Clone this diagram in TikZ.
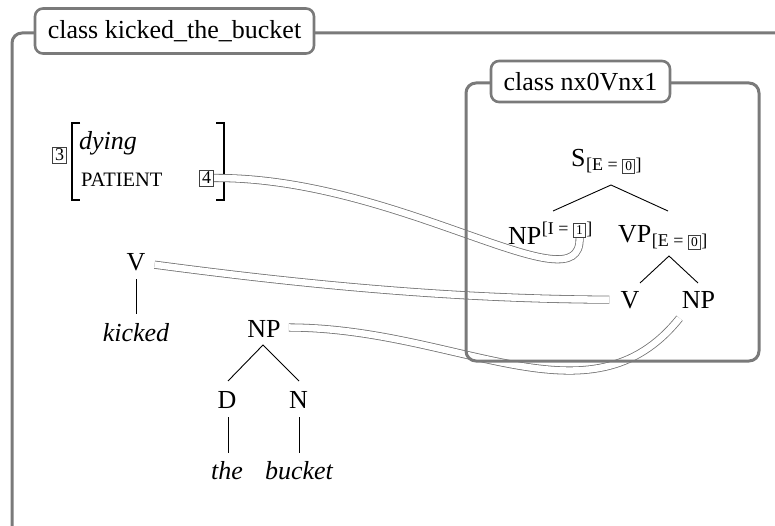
\documentclass[tikz,border=0pt]{standalone}
\usepackage{fontspec}
\setmainfont{Liberation Serif}
\usetikzlibrary{calc}
\pgfdeclarelayer{bg}
\pgfsetlayers{bg,main}
\begin{document}
\begin{tikzpicture}[x=1pt,y=-1pt,
  lbl/.style={inner sep=0pt, font=\fontsize{26}{30}\selectfont},
  itlbl/.style={inner sep=0pt, font=\fontsize{26}{30}\selectfont\itshape},
  sclbl/.style={inner sep=0pt, font=\fontsize{20.5}{24}\selectfont},
  sublbl/.style={inner sep=0pt, font=\fontsize{18}{20}\selectfont},
  numbox/.style={draw=black!75, line width=0.8pt, inner xsep=2.6pt, inner ysep=2.4pt, font=\fontsize{13.5}{13.5}\selectfont},
  avmbox/.style={draw=black!75, line width=0.8pt, inner xsep=2.8pt, inner ysep=2pt, font=\fontsize{18}{18}\selectfont},
  frm/.style={draw=black!52, line width=3pt, rounded corners=10pt},
  titlebox/.style={draw=black!52, line width=2.6pt, fill=white, rounded corners=8pt, inner sep=0pt, font=\fontsize{26}{30}\selectfont},
  treeline/.style={line width=0.9pt},
  brk/.style={line width=1.3pt},
  dbl/.style={draw=black!55, line width=0.8pt, double=white, double distance=6.5pt},
]
\useasboundingbox (0,0) rectangle (775,526);

% ---------- title boxes ----------
\node[titlebox, minimum width=279pt, minimum height=45pt] (t1) at (174.5,31) {class kicked\_the\_bucket};
\node[titlebox, minimum width=179pt, minimum height=41pt] (t2) at (580.5,81.5) {class nx0Vnx1};

% ---------- AVM ----------
\node[avmbox] (box3) at (59.5,155) {3};
\node[itlbl, anchor=base west] (dying) at (79,150) {dying};
\node[sclbl, anchor=base west] (patient) at (81,187) {PATIENT};
\node[avmbox] (box4) at (206.5,178) {4};

% ---------- left trees ----------
\node[lbl, anchor=base] (vL) at (136,270) {V};
\node[itlbl, anchor=base] (kicked) at (136,341) {kicked};
\node[lbl, anchor=base] (npM) at (264,337) {NP};
\node[lbl, anchor=base] (d) at (227,408) {D};
\node[lbl, anchor=base] (n) at (298.5,408) {N};
\node[itlbl, anchor=base] (the) at (227,479) {the};
\node[itlbl, anchor=base] (bucket) at (299,479) {bucket};

\coordinate (vLb) at (136,279);
\coordinate (kickedT) at (136,314);
\coordinate (npMA) at (263,345);
\coordinate (dT) at (228,381);
\coordinate (nT) at (299,381);
\coordinate (dB) at (228,417);
\coordinate (theT) at (228,453);
\coordinate (nB) at (299,417);
\coordinate (bucketT) at (299,453);

\draw[treeline] (vLb) -- (kickedT);
\draw[treeline] (dT) -- (npMA) -- (nT);
\draw[treeline] (dB) -- (theT);
\draw[treeline] (nB) -- (bucketT);

% ---------- right tree ----------
\node[lbl, anchor=base west] (s) at (571,167) {S};
\node[sublbl, anchor=base west] (ssubA) at ($(s.base east)+(0,4)$) {[E =};
\node[numbox, anchor=base west] (s0) at ($(ssubA.base east)+(4.5,0)$) {0};
\node[sublbl, anchor=base west] (ssubB) at ($(s0.base east)+(0.3,0)$) {]};

\node[lbl, anchor=base west] (np1) at (508,244) {NP};
\node[sublbl, anchor=base west] (npsupA) at ($(np1.base east)+(0,-9)$) {[I =};
\node[numbox, anchor=base west] (box1) at ($(npsupA.base east)+(4.5,0)$) {1};
\node[sublbl, anchor=base west] (npsupB) at ($(box1.base east)+(0.3,0)$) {]};

\node[lbl, anchor=base west] (vp) at (618,243) {VP};
\node[sublbl, anchor=base west] (vpsubA) at ($(vp.base east)+(0,4)$) {[E =};
\node[numbox, anchor=base west] (vp0) at ($(vpsubA.base east)+(4.5,0)$) {0};
\node[sublbl, anchor=base west] (vpsubB) at ($(vp0.base east)+(0.3,0)$) {]};

\node[lbl, anchor=base] (vR) at (630,308) {V};
\node[lbl, anchor=base] (npR) at (698.5,308) {NP};

\coordinate (sA) at (611,185);
\coordinate (np1T) at (553,211);
\coordinate (vpT) at (668,211);
\coordinate (vpA) at (669,256);
\coordinate (vRT) at (640,283);
\coordinate (npRT) at (698,283);

\draw[treeline] (np1T) -- (sA) -- (vpT);
\draw[treeline] (vRT) -- (vpA) -- (npRT);

% ---------- background: brackets, connectors, frames ----------
\begin{pgfonlayer}{bg}
  \draw[brk] (80,123) -- (72,123) -- (72,200) -- (80,200);
  \draw[brk] (216,123) -- (224,123) -- (224,200) -- (216,200);

  \draw[dbl] (box4.east) .. controls (400,177) and (582,310) .. (box1.south);
  \draw[dbl] ($(vL.east)+(9,3)$) .. controls (300,284) and (450,299) .. ($(vR.west)+(-11,0)$);
  \draw[dbl] ($(npM.east)+(8,-1)$) .. controls (460,328) and (590,430) .. ($(npR.south)+(-19,10)$);

  \draw[frm] (12,33) rectangle (830,580);
  \draw[frm] (466,83) rectangle (759,361);
\end{pgfonlayer}
\end{tikzpicture}
\end{document}
